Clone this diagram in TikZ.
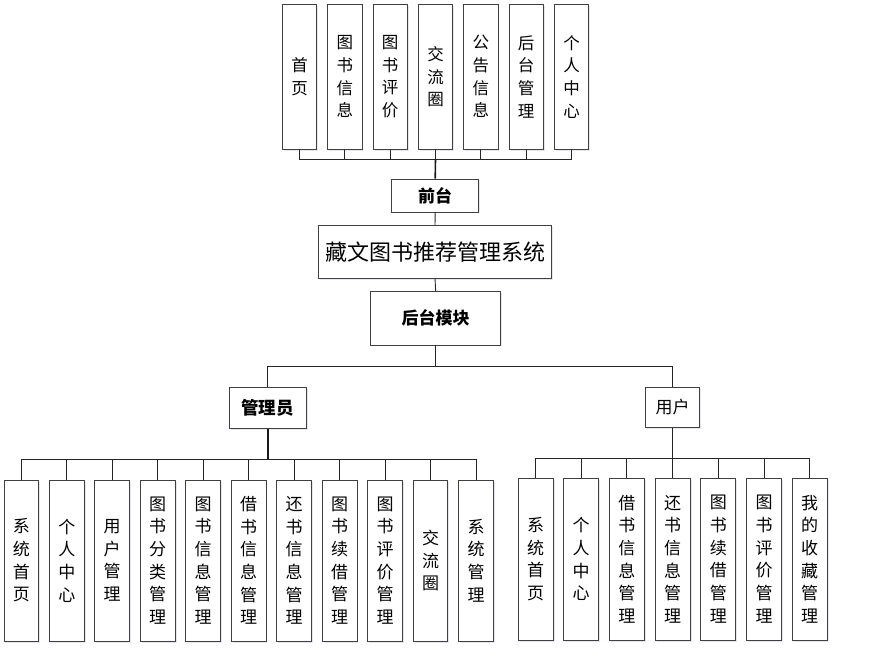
\documentclass[tikz,border=0pt]{standalone}
\usepackage{fontspec}
\setmainfont{Noto Sans CJK SC}
\usetikzlibrary{shadows}
\begin{document}
\begin{tikzpicture}[x=1pt,y=-1pt,
  box/.style={draw=black!75,line width=0.8pt,fill=white,inner sep=0pt,align=center,
    drop shadow={shadow xshift=1.5pt,shadow yshift=-1.5pt,fill=blue!30!gray,opacity=0.15}},
  topbox/.style={box,minimum width=34.3pt,minimum height=145.3pt,font=\fontsize{16.5}{22.7}\selectfont},
  abox/.style={box,minimum width=34.7pt,minimum height=161pt,font=\fontsize{17}{22.7}\selectfont},
  ubox/.style={box,minimum width=35pt,minimum height=161.7pt,font=\fontsize{17}{22.7}\selectfont},
  conn/.style={draw=black!85,line width=0.9pt},
  trunk/.style={draw=black!90,line width=1.6pt}]
\useasboundingbox (0,0) rectangle (878,660);
% top row
\node[topbox] (t1) at (299.5,76.7) {首\\页};
\node[topbox] (t2) at (344.8,76.7) {图\\书\\信\\息};
\node[topbox] (t3) at (390.2,76.7) {图\\书\\评\\价};
\node[topbox] (t4) at (435.5,76.7) {交\\流\\圈};
\node[topbox] (t5) at (480.8,76.7) {公\\告\\信\\息};
\node[topbox] (t6) at (526.2,76.7) {后\\台\\管\\理};
\node[topbox] (t7) at (571.5,76.7) {个\\人\\中\\心};
% middle
\node[box,minimum width=87pt,minimum height=33pt,font=\fontsize{17}{20}\selectfont\bfseries] (qt) at (435.2,195.5) {前台};
\node[box,minimum width=233.4pt,minimum height=52.6pt,font=\fontsize{22}{26}\selectfont] (sys) at (435,252) {藏文图书推荐管理系统};
\node[box,minimum width=130pt,minimum height=53.3pt,font=\fontsize{17}{20}\selectfont\bfseries] (ht) at (435.7,318.3) {后台模块};
\node[box,minimum width=76.7pt,minimum height=41pt,font=\fontsize{17.5}{20}\selectfont\bfseries] (gly) at (267.7,407.8) {管理员};
\node[box,minimum width=53.6pt,minimum height=40.4pt,font=\fontsize{17}{20}\selectfont] (yh) at (672.5,407.5) {用户};
% admin children
\node[abox] (a1) at (21.3,560.5) {系\\统\\首\\页};
\node[abox] (a2) at (66.8,560.5) {个\\人\\中\\心};
\node[abox] (a3) at (112.2,560.5) {用\\户\\管\\理};
\node[abox] (a4) at (157.7,560.5) {图\\书\\分\\类\\管\\理};
\node[abox] (a5) at (203.2,560.5) {图\\书\\信\\息\\管\\理};
\node[abox] (a6) at (248.6,560.5) {借\\书\\信\\息\\管\\理};
\node[abox] (a7) at (294.1,560.5) {还\\书\\信\\息\\管\\理};
\node[abox] (a8) at (339.6,560.5) {图\\书\\续\\借\\管\\理};
\node[abox] (a9) at (385.1,560.5) {图\\书\\评\\价\\管\\理};
\node[abox] (a10) at (430.5,560.5) {交\\流\\圈};
\node[abox] (a11) at (476,560.5) {系\\统\\管\\理};
% user children
\node[ubox] (u1) at (535.5,559.2) {系\\统\\首\\页};
\node[ubox] (u2) at (581.2,559.2) {个\\人\\中\\心};
\node[ubox] (u3) at (626.9,559.2) {借\\书\\信\\息\\管\\理};
\node[ubox] (u4) at (672.6,559.2) {还\\书\\信\\息\\管\\理};
\node[ubox] (u5) at (718.3,559.2) {图\\书\\续\\借\\管\\理};
\node[ubox] (u6) at (764,559.2) {图\\书\\评\\价\\管\\理};
\node[ubox] (u7) at (809.7,559.2) {我\\的\\收\\藏\\管\\理};
% bus coordinates
\coordinate (bt) at (435.5,159.3);
\coordinate (bb) at (435.7,366);
\coordinate (ba) at (267.7,459);
\coordinate (bu) at (672.5,458.3);
% connectors
\foreach \i in {1,...,7}{\draw[conn] (t\i.south) |- (bt);}
\draw[trunk] (bt) -- (qt.north);
\draw[conn] (qt.south) -- (sys.north);
\draw[conn] (sys.south) -- (ht.north);
\draw[conn] (ht.south) -- (bb);
\draw[conn] (bb) -| (gly.north);
\draw[conn] (bb) -| (yh.north);
\draw[trunk] (gly.south) -- (ba);
\foreach \i in {1,...,11}{\draw[conn] (ba) -| (a\i.north);}
\draw[conn] (yh.south) -- (bu);
\foreach \i in {1,...,7}{\draw[conn] (bu) -| (u\i.north);}
\end{tikzpicture}
\end{document}
